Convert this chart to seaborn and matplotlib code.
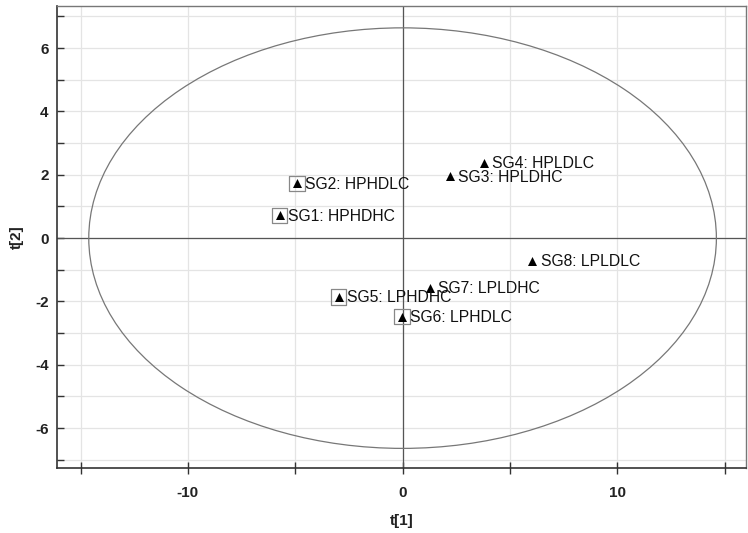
import matplotlib
matplotlib.use("Agg")
import matplotlib.pyplot as plt
from matplotlib.patches import Ellipse
from matplotlib.ticker import MultipleLocator
import seaborn as sns
import pandas as pd

labels = ["SG1: HPHDHC", "SG2: HPHDLC", "SG3: HPLDHC", "SG4: HPLDLC",
          "SG5: LPHDHC", "SG6: LPHDLC", "SG7: LPLDHC", "SG8: LPLDLC"]
t1 = [-5.73, -4.92, 2.19, 3.80, -2.98, -0.03, 1.28, 6.05]
t2 = [0.72, 1.73, 1.95, 2.38, -1.86, -2.48, -1.56, -0.72]
boxed = [True, True, False, False, True, True, False, False]
ellipse_a = 14.62
ellipse_b = 6.64

df = pd.DataFrame({"t1": t1, "t2": t2, "label": labels, "boxed": boxed})

sns.set_style("white")
plt.rcParams["font.family"] = ["Liberation Sans", "DejaVu Sans"]
plt.rcParams["axes.unicode_minus"] = False

fig = plt.figure(figsize=(7.48, 5.33), dpi=100)
ax = fig.add_axes([57 / 748, 1 - 467.7 / 533, (746 - 57) / 748, (467.7 - 6) / 533])

ax.set_xlim(-16.1, 16.0)
ax.set_ylim(-7.25, 7.33)

ax.xaxis.set_major_locator(MultipleLocator(10))
ax.xaxis.set_minor_locator(MultipleLocator(5))
ax.yaxis.set_major_locator(MultipleLocator(2))
ax.yaxis.set_minor_locator(MultipleLocator(1))
ax.grid(True, which="both", color="#e4e4e4", linewidth=0.9)
ax.set_axisbelow(True)

ax.axhline(0, color="#555555", linewidth=0.9, zorder=1)
ax.axvline(0, color="#555555", linewidth=0.9, zorder=1)

ell = Ellipse((0, 0), 2 * ellipse_a, 2 * ellipse_b, fill=False,
              edgecolor="#777777", linewidth=0.9, zorder=2)
ax.add_patch(ell)

sns.scatterplot(data=df[df["boxed"]], x="t1", y="t2", marker="s", s=120,
                facecolor="none", edgecolor="#888888", linewidth=0.9, ax=ax, zorder=3)
sns.scatterplot(data=df, x="t1", y="t2", marker="^", s=42, color="black",
                edgecolor="black", linewidth=0, ax=ax, zorder=4)

for _, r in df.iterrows():
    ax.annotate(r["label"], (r["t1"], r["t2"]), xytext=(6, -0.5),
                textcoords="offset points", ha="left", va="center",
                fontsize=11.3, color="#111111", zorder=5)

for side in ["left", "bottom"]:
    ax.spines[side].set_color("#333333")
    ax.spines[side].set_linewidth(1.2)
for side in ["top", "right"]:
    ax.spines[side].set_color("#777777")
    ax.spines[side].set_linewidth(1.0)

ax.tick_params(axis="x", which="both", direction="inout", length=8, width=1,
               color="#333333", bottom=True, top=False)
ax.tick_params(axis="y", which="both", direction="in", length=5, width=1,
               color="#333333", left=True, right=False)
ax.tick_params(axis="x", which="major", labelsize=11, pad=9)
ax.tick_params(axis="y", which="major", labelsize=11, pad=6)
for lab in ax.get_xticklabels() + ax.get_yticklabels():
    lab.set_fontweight("bold")
    lab.set_color("#222222")

ax.set_xlabel("t[1]", fontsize=11, fontweight="bold", color="#222222", labelpad=10)
ax.set_ylabel("t[2]", fontsize=11, fontweight="bold", color="#222222", labelpad=8)

fig.savefig("out.png", dpi=100)
